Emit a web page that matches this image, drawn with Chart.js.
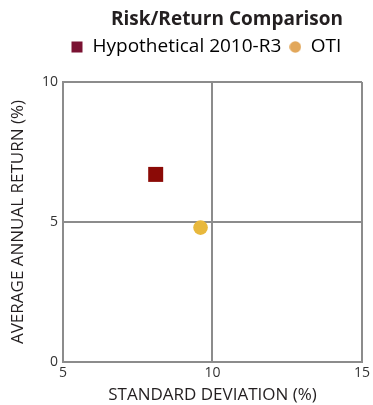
<!DOCTYPE html>
<html>
<head>
<meta charset="utf-8">
<script src="https://cdn.jsdelivr.net/npm/chart.js@4.4.0/dist/chart.umd.min.js"></script>
<style>
  html, body { margin: 0; padding: 0; background: #fff; }
  #wrap { width: 373px; height: 405px; }
</style>
</head>
<body>
<div id="wrap"><canvas id="riskChart" width="373" height="405"></canvas></div>
<script>
const seriesNames = ['Hypothetical 2010-R3', 'OTI'];
const stdDev = [8.1, 9.6];        // x: standard deviation (%)
const annReturn = [6.7, 4.8];     // y: average annual return (%)
const xTicks = [5, 10, 15];
const yTicks = [0, 5, 10];

const pointColors = ['#8b0a06', '#e8b83c'];
const legendColors = ['#7a1232', '#e2a75a'];
const FONT = "'Open Sans', 'Noto Sans', sans-serif";

// small swatches for the legend
function swatch(kind, color) {
    const c = document.createElement('canvas');
    c.width = 12; c.height = 12;
    const g = c.getContext('2d');
    g.fillStyle = color;
    if (kind === 'rect') {
        g.fillRect(0.5, 0.5, 11, 11);
    } else {
        g.beginPath();
        g.arc(6, 6, 5.8, 0, Math.PI * 2);
        g.fill();
    }
    return c;
}
const legendIcons = [swatch('rect', legendColors[0]), swatch('circle', legendColors[1])];

const chartTitle = {
    id: 'chartTitle',
    afterDraw(chart) {
        const ctx = chart.ctx;
        ctx.save();
        ctx.font = 'bold 19px ' + FONT;
        ctx.fillStyle = '#231f20';
        ctx.textAlign = 'center';
        ctx.textBaseline = 'middle';
        ctx.fillText('Risk/Return Comparison', 227, 20);
        ctx.restore();
    }
};

// leave room between the legend and the plot
const legendGap = {
    id: 'legendGap',
    beforeInit(chart) {
        const fit = chart.legend.fit;
        chart.legend.fit = function () {
            fit.call(this);
            this.height += 15.5;
        };
    }
};

const gridColor = '#8c8c8c';

const ctx = document.getElementById('riskChart').getContext('2d');
new Chart(ctx, {
    type: 'scatter',
    data: {
        datasets: [{
            label: seriesNames[0],
            data: [{ x: stdDev[0], y: annReturn[0] }],
            pointStyle: 'rect',
            pointRadius: 10.6,
            pointHoverRadius: 10.6,
            borderWidth: 0,
            backgroundColor: pointColors[0]
        }, {
            label: seriesNames[1],
            data: [{ x: stdDev[1], y: annReturn[1] }],
            pointStyle: 'circle',
            pointRadius: 7.3,
            pointHoverRadius: 7.3,
            borderWidth: 0,
            backgroundColor: pointColors[1]
        }]
    },
    options: {
        responsive: false,
        animation: false,
        layout: { padding: { top: 29.5, right: 9, left: 0, bottom: 0 } },
        plugins: {
            tooltip: { enabled: false },
            title: { display: false },
            legend: {
                position: 'top',
                align: 'start',
                fullSize: false,
                labels: {
                    usePointStyle: true,
                    boxWidth: 12,
                    boxHeight: 12,
                    padding: 8,
                    color: '#231f20',
                    font: { family: FONT, size: 19 },
                    generateLabels: () => seriesNames.map((name, i) => ({
                        text: name,
                        pointStyle: legendIcons[i],
                        fillStyle: legendColors[i],
                        strokeStyle: legendColors[i],
                        lineWidth: 0,
                        hidden: false,
                        datasetIndex: i
                    }))
                }
            }
        },
        scales: {
            x: {
                type: 'linear',
                min: xTicks[0],
                max: xTicks[xTicks.length - 1],
                afterBuildTicks: s => { s.ticks = xTicks.map(v => ({ value: v })); },
                afterFit: s => { s.height = 43; },
                grid: { color: gridColor, lineWidth: 2, drawTicks: false },
                border: { color: gridColor, width: 2 },
                ticks: { padding: 3, color: '#333', font: { family: FONT, size: 14 } },
                title: {
                    display: true,
                    text: 'STANDARD DEVIATION (%)',
                    color: '#231f20',
                    font: { family: FONT, size: 17 },
                    padding: { top: 0, bottom: 0 }
                }
            },
            y: {
                type: 'linear',
                min: yTicks[0],
                max: yTicks[yTicks.length - 1],
                afterBuildTicks: s => { s.ticks = yTicks.map(v => ({ value: v })); },
                afterFit: s => { s.width = 63; },
                grid: { color: gridColor, lineWidth: 2, drawTicks: false },
                border: { color: gridColor, width: 2 },
                ticks: { padding: 5, color: '#333', font: { family: FONT, size: 14 } },
                title: {
                    display: true,
                    text: 'AVERAGE ANNUAL RETURN (%)',
                    color: '#231f20',
                    font: { family: FONT, size: 17 },
                    padding: { top: 8, bottom: 0 }
                }
            }
        }
    },
    plugins: [chartTitle, legendGap]
});
</script>
</body>
</html>
